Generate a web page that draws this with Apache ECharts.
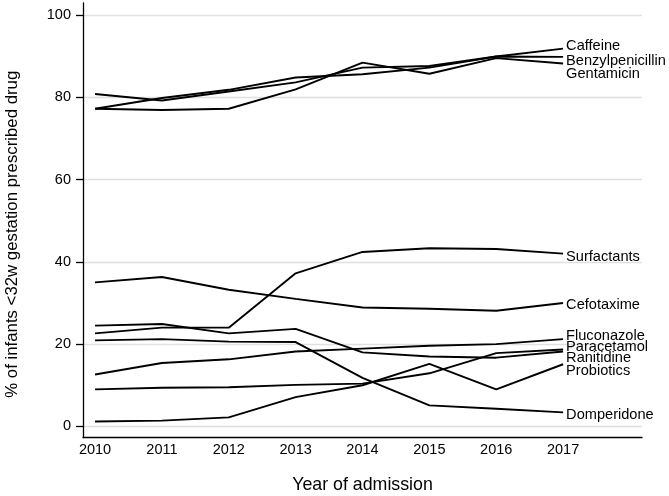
<!DOCTYPE html>
<html>
<head>
<meta charset="utf-8">
<script src="https://cdn.jsdelivr.net/npm/echarts@6/dist/echarts.min.js"></script>
<style>
html,body{margin:0;padding:0;background:#fff;}
#chart{width:669px;height:496px;}
</style>
</head>
<body>
<div id="chart"></div>
<script>
var years = [2010, 2011, 2012, 2013, 2014, 2015, 2016, 2017];
var yTicks = [0, 20, 40, 60, 80, 100];

var drugNames = ["Caffeine", "Benzylpenicillin", "Gentamicin", "Surfactants", "Cefotaxime",
  "Fluconazole", "Paracetamol", "Ranitidine", "Probiotics", "Domperidone"];

var caffeine         = [77.2, 79.8, 81.8, 84.8, 85.6, 87.2, 89.9, 91.8];
var benzylpenicillin = [80.8, 79.2, 81.4, 83.6, 87.2, 87.6, 89.9, 89.8];
var gentamicin       = [77.2, 76.9, 77.2, 81.9, 88.4, 85.7, 89.5, 88.2];
var surfactants      = [22.6, 24.0, 24.0, 37.2, 42.4, 43.3, 43.1, 42.0];
var cefotaxime       = [35.0, 36.3, 33.2, 31.0, 28.9, 28.6, 28.1, 30.0];
var fluconazole      = [12.6, 15.4, 16.3, 18.2, 18.9, 19.6, 20.0, 21.2];
var paracetamol      = [9.0, 9.4, 9.5, 10.1, 10.4, 12.9, 17.8, 18.7];
var ranitidine       = [24.5, 24.9, 22.6, 23.7, 18.0, 17.0, 16.7, 18.2];
var probiotics       = [1.2, 1.4, 2.2, 7.1, 10.0, 15.2, 9.0, 15.1];
var domperidone      = [20.9, 21.2, 20.6, 20.5, 11.8, 5.1, 4.3, 3.4];

var allValues = [caffeine, benzylpenicillin, gentamicin, surfactants, cefotaxime,
  fluconazole, paracetamol, ranitidine, probiotics, domperidone];
// vertical nudges of end labels (label placement)
var labelDy = [-3, 4, 10, 3, 2, -3, -2.5, 6.5, 6.5, 2.5];

var FONT = "'Liberation Sans', Arial, Helvetica, sans-serif";

var series = drugNames.map(function (name, i) {
  return {
    name: name,
    type: 'line',
    symbol: 'none',
    silent: true,
    animation: false,
    lineStyle: { color: '#000', width: 1.9 },
    data: years.map(function (y, j) { return [y, allValues[i][j]]; }),
    endLabel: {
      show: true,
      formatter: name,
      color: '#000',
      fontFamily: FONT,
      fontSize: 14.6,
      distance: 3,
      offset: [0, labelDy[i]]
    }
  };
});

var chart = echarts.init(document.getElementById('chart'), null, { renderer: 'canvas' });
chart.setOption({
  backgroundColor: '#fff',
  animation: false,
  grid: { left: 83, right: 27, top: 3, bottom: 58.5, containLabel: false, outerBoundsMode: 'none' },
  xAxis: {
    type: 'value',
    min: 2009.82,
    max: 2018.18,
    name: 'Year of admission',
    nameLocation: 'middle',
    nameGap: 39,
    nameTextStyle: { fontFamily: FONT, fontSize: 17.8, color: '#000' },
    axisLine: { show: true, onZero: false, lineStyle: { color: '#000', width: 1.3 } },
    axisTick: { show: false, customValues: years },
    axisLabel: { customValues: years, margin: 5, fontFamily: FONT, fontSize: 14.5, color: '#000',
      formatter: function (v) { return String(v); } },
    splitLine: { show: false }
  },
  yAxis: {
    type: 'value',
    min: -2.7,
    max: 102.9,
    name: '% of infants <32w gestation prescribed drug',
    nameLocation: 'middle',
    nameGap: 62,
    nameTextStyle: { fontFamily: FONT, fontSize: 16.8, color: '#000', padding: [0, 28, 0, 0] },
    axisLine: { show: true, onZero: false, lineStyle: { color: '#000', width: 1.3 } },
    axisTick: { show: true, length: 7, customValues: yTicks, lineStyle: { color: '#000', width: 1.3 } },
    axisLabel: { customValues: yTicks, margin: 12, fontFamily: FONT, fontSize: 14.5, color: '#000' },
    splitLine: { show: true, lineStyle: { color: '#e0e0e0', width: 1.3 } }
  },
  series: series
});
</script>
</body>
</html>
